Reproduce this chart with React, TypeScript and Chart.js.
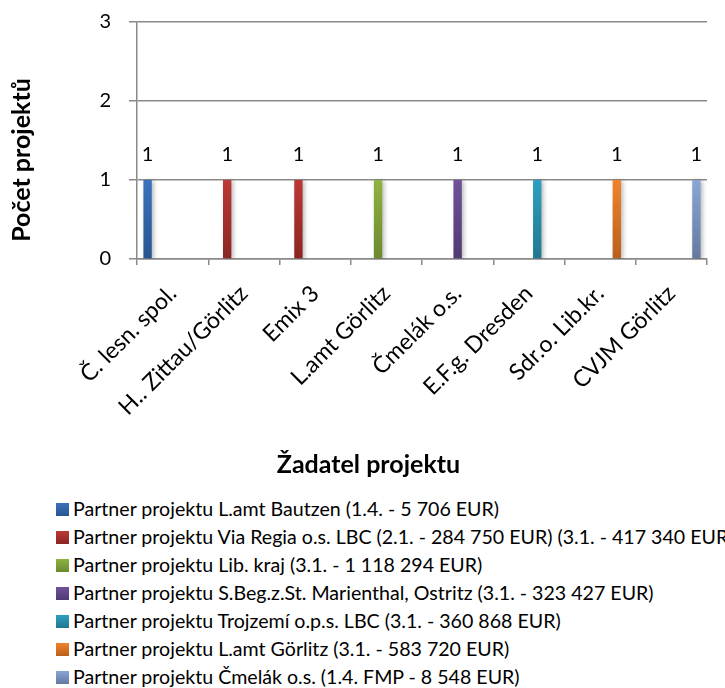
import React, { useEffect, useRef } from "react";
import { Chart, registerables } from "chart.js";

Chart.register(...registerables);

const FONT = "Lato, 'Noto Sans', sans-serif";
const GRID = "#8a8a8a";

const categories = [
  "Č. lesn. spol.",
  "H.. Zittau/Görlitz",
  "Emix 3",
  "L.amt Görlitz",
  "Čmelák o.s.",
  "E.F.g. Dresden",
  "Sdr.o. Lib.kr.",
  "CVJM Görlitz",
];

const seriesNames = [
  "Partner projektu L.amt Bautzen (1.4. - 5 706 EUR)",
  "Partner projektu Via Regia o.s. LBC (2.1. - 284 750 EUR) (3.1. - 417 340 EUR)",
  "Partner projektu Lib. kraj (3.1. - 1 118 294 EUR)",
  "Partner projektu S.Beg.z.St. Marienthal, Ostritz (3.1. - 323 427 EUR)",
  "Partner projektu Trojzemí o.p.s. LBC (3.1. - 360 868 EUR)",
  "Partner projektu L.amt Görlitz (3.1. - 583 720 EUR)",
  "Partner projektu Čmelák o.s. (1.4. FMP - 8 548 EUR)",
];

const seriesBautzen = [1, null, null, null, null, null, null, null];
const seriesViaRegia = [null, 1, 1, null, null, null, null, null];
const seriesLibKraj = [null, null, null, 1, null, null, null, null];
const seriesMarienthal = [null, null, null, null, 1, null, null, null];
const seriesTrojzemi = [null, null, null, null, null, 1, null, null];
const seriesLamtGorlitz = [null, null, null, null, null, null, 1, null];
const seriesCmelak = [null, null, null, null, null, null, null, 1];

const seriesValues = [
  seriesBautzen,
  seriesViaRegia,
  seriesLibKraj,
  seriesMarienthal,
  seriesTrojzemi,
  seriesLamtGorlitz,
  seriesCmelak,
];

const colorsTop = ["#3a72bc", "#bb3835", "#8fb340", "#70519a", "#2e9fc0", "#f0832a", "#89a6d6"];
const colorsBottom = ["#28558f", "#8a2523", "#6a8a2e", "#513a72", "#21778f", "#b95f1b", "#64799f"];

const yTitle = "Počet projektů";
const xTitle = "Žadatel projektu";

const barPlugin = {
  id: "barExtras",
  beforeDatasetsDraw(chart: any) {
    const c = chart.ctx;
    c.save();
    c.shadowColor = "rgba(0,0,0,0.28)";
    c.shadowBlur = 4;
    c.shadowOffsetX = 2;
    c.shadowOffsetY = 1;
  },
  afterDatasetsDraw(chart: any) {
    const c = chart.ctx;
    c.restore();
    c.save();
    c.fillStyle = "#000";
    c.font = `20px ${FONT}`;
    c.textAlign = "center";
    c.textBaseline = "alphabetic";
    chart.data.datasets.forEach((ds: any, di: number) => {
      const meta = chart.getDatasetMeta(di);
      meta.data.forEach((el: any, i: number) => {
        const v = ds.data[i];
        if (v === null || v === undefined) return;
        c.fillText(String(v), el.x, el.y - 19);
      });
    });
    c.restore();
  },
  afterDraw(chart: any) {
    const c = chart.ctx;
    const area = chart.chartArea;
    c.save();
    c.fillStyle = "#000";
    c.font = `bold 25px ${FONT}`;
    c.textAlign = "center";
    c.textBaseline = "middle";
    c.save();
    c.translate(area.left - 115, area.bottom - 99);
    c.rotate(-Math.PI / 2);
    c.fillText(yTitle, 0, 0);
    c.restore();
    c.fillText(xTitle, chart.width / 2 + 6, area.bottom + 206);
    c.restore();
  },
};

export default function App() {
  const ref = useRef<HTMLCanvasElement>(null);

  useEffect(() => {
    const canvas = ref.current;
    if (!canvas) return;
    const gradientFor = (i: number) => (ctx: any) => {
      const chart = ctx.chart;
      const y = chart.scales && chart.scales.y;
      if (!chart.chartArea || !y || ctx.raw === null || ctx.raw === undefined) return colorsTop[i];
      const top = y.getPixelForValue(ctx.raw);
      const bottom = y.getPixelForValue(0);
      const g = chart.ctx.createLinearGradient(0, top, 0, bottom);
      g.addColorStop(0, colorsTop[i]);
      g.addColorStop(1, colorsBottom[i]);
      return g;
    };
    const chart = new Chart(canvas, {
      type: "bar",
      data: {
        labels: categories,
        datasets: seriesValues.map((vals, i) => ({
          label: seriesNames[i],
          data: vals,
          backgroundColor: gradientFor(i),
          borderWidth: 0,
          categoryPercentage: 0.82,
          barPercentage: 1.0,
        })),
      },
      options: {
        responsive: false,
        animation: false,
        layout: { padding: { left: 0, right: 18, top: 22, bottom: 0 } },
        plugins: {
          legend: { display: false },
          tooltip: { enabled: false },
        },
        scales: {
          x: {
            grid: {
              display: true,
              drawOnChartArea: false,
              drawTicks: true,
              tickLength: 6,
              color: GRID,
              lineWidth: 1.5,
              offset: true,
            },
            border: { display: true, color: GRID, width: 1.5 },
            ticks: {
              autoSkip: false,
              minRotation: 45,
              maxRotation: 45,
              padding: 15,
              color: "#000",
              font: { family: FONT, size: 23 },
            },
            afterFit: (s: any) => {
              s.height = 226;
              s.paddingLeft = 0;
              s.paddingRight = 0;
            },
          },
          y: {
            min: 0,
            max: 3,
            ticks: {
              stepSize: 1,
              padding: 18,
              color: "#000",
              font: { family: FONT, size: 20 },
            },
            grid: { color: GRID, lineWidth: 1.5, tickLength: 8, drawTicks: true },
            border: { color: GRID, width: 1.5 },
            afterFit: (s: any) => {
              s.width = 137;
              s.paddingTop = 12;
              s.paddingBottom = 12;
            },
          },
        },
      },
      plugins: [barPlugin],
    } as any);
    return () => chart.destroy();
  }, []);

  return (
    <div
      style={{
        position: "absolute",
        left: 0,
        top: 0,
        width: 725,
        height: 688,
        background: "#fff",
        overflow: "hidden",
        fontFamily: FONT,
      }}
    >
      <canvas ref={ref} width={725} height={485} style={{ display: "block", width: 725, height: 485 }} />
      <div style={{ position: "absolute", left: 0, top: 495 }}>
        {seriesNames.map((name, i) => (
          <div
            key={i}
            style={{ height: 28, display: "flex", alignItems: "center", whiteSpace: "nowrap" }}
          >
            <span
              style={{
                display: "inline-block",
                marginLeft: 56,
                width: 13,
                height: 13,
                background: `linear-gradient(${colorsTop[i]}, ${colorsBottom[i]})`,
              }}
            />
            <span style={{ marginLeft: 4, fontSize: 19.6, color: "#000", lineHeight: "28px" }}>{name}</span>
          </div>
        ))}
      </div>
    </div>
  );
}
